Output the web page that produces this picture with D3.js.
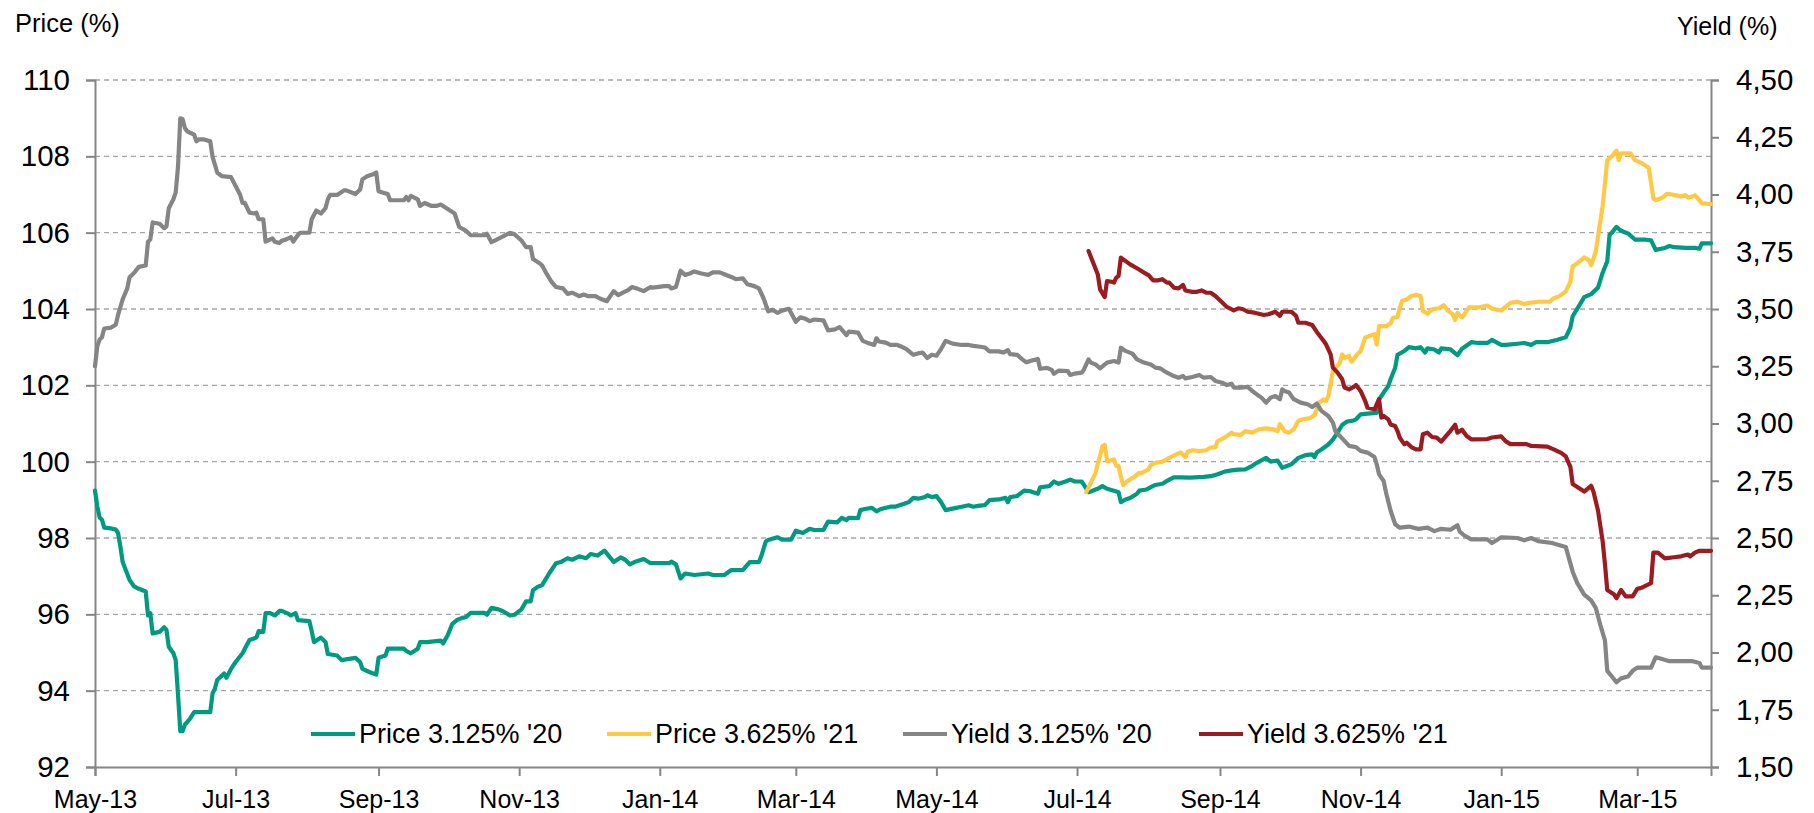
<!DOCTYPE html>
<html>
<head>
<meta charset="utf-8">
<script src="https://cdn.jsdelivr.net/npm/d3@7"></script>
<style>
  html, body { margin: 0; padding: 0; background: #fff; }
  svg { display: block; font-family: "Liberation Sans", Arial, sans-serif; }
</style>
</head>
<body>
<svg id="chart" width="1814" height="813"></svg>
<script>
// ---------------- DATA ----------------
const seriesNames = ["Price 3.125% '20", "Price 3.625% '21", "Yield 3.125% '20", "Yield 3.625% '21"];
const seriesColors = ["#009a80", "#ffc845", "#858585", "#9b1c20"];

const priceTicks = [92, 94, 96, 98, 100, 102, 104, 106, 108, 110];
const yieldTicks = [1.50, 1.75, 2.00, 2.25, 2.50, 2.75, 3.00, 3.25, 3.50, 3.75, 4.00, 4.25, 4.50];
const dateTicks = ["2013-05-01","2013-07-01","2013-09-01","2013-11-01","2014-01-01","2014-03-01",
                   "2014-05-01","2014-07-01","2014-09-01","2014-11-01","2015-01-01","2015-03-01"];
const dateDomain = ["2013-05-01", "2015-04-02"];

const price20 = [
["2013-05-01",99.24],["2013-05-02",98.83],["2013-05-03",98.54],["2013-05-04",98.48],["2013-05-05",98.27],
["2013-05-08",98.25],["2013-05-10",98.22],["2013-05-11",98.13],["2013-05-12",97.78],["2013-05-13",97.37],
["2013-05-16",96.90],["2013-05-18",96.73],["2013-05-20",96.67],["2013-05-23",96.60],["2013-05-24",95.97],
["2013-05-25",96.03],["2013-05-26",95.50],["2013-05-29",95.54],["2013-05-31",95.66],["2013-06-01",95.59],
["2013-06-02",95.15],["2013-06-04",94.98],["2013-06-05",94.80],["2013-06-06",93.90],["2013-06-07",92.94],
["2013-06-08",92.94],["2013-06-09",93.11],["2013-06-11",93.25],["2013-06-13",93.44],["2013-06-20",93.44],
["2013-06-21",93.93],["2013-06-22",94.05],["2013-06-23",94.28],["2013-06-26",94.45],["2013-06-27",94.34],
["2013-06-29",94.57],["2013-07-01",94.75],["2013-07-04",94.98],["2013-07-05",95.10],["2013-07-07",95.33],
["2013-07-08",95.35],["2013-07-10",95.39],["2013-07-11",95.56],["2013-07-13",95.54],["2013-07-14",96.03],
["2013-07-16",96.03],["2013-07-18",95.97],["2013-07-20",96.09],["2013-07-21",96.09],["2013-07-24",96.01],
["2013-07-25",95.97],["2013-07-27",96.03],["2013-07-28",95.85],["2013-08-02",95.82],["2013-08-03",95.56],
["2013-08-04",95.27],["2013-08-07",95.39],["2013-08-09",95.27],["2013-08-10",94.96],["2013-08-14",94.92],
["2013-08-16",94.80],["2013-08-22",94.86],["2013-08-24",94.75],["2013-08-25",94.57],["2013-08-28",94.49],
["2013-08-31",94.42],["2013-09-01",94.86],["2013-09-04",94.92],["2013-09-05",95.10],["2013-09-12",95.10],
["2013-09-13",95.04],["2013-09-15",94.98],["2013-09-18",95.10],["2013-09-19",95.27],["2013-09-22",95.27],
["2013-09-28",95.31],["2013-09-29",95.24],["2013-10-01",95.45],["2013-10-03",95.75],["2013-10-05",95.85],
["2013-10-07",95.90],["2013-10-09",95.93],["2013-10-11",96.04],["2013-10-17",96.04],["2013-10-18",95.99],
["2013-10-20",96.17],["2013-10-23",96.13],["2013-10-25",96.08],["2013-10-28",95.97],["2013-10-30",95.99],
["2013-11-02",96.13],["2013-11-04",96.34],["2013-11-06",96.34],["2013-11-07",96.63],["2013-11-09",96.72],
["2013-11-11",96.77],["2013-11-14",97.07],["2013-11-17",97.34],["2013-11-19",97.37],["2013-11-22",97.47],
["2013-11-24",97.43],["2013-11-27",97.52],["2013-11-30",97.47],["2013-12-02",97.58],["2013-12-05",97.54],
["2013-12-08",97.67],["2013-12-12",97.37],["2013-12-15",97.49],["2013-12-17",97.43],["2013-12-19",97.31],
["2013-12-21",97.37],["2013-12-25",97.45],["2013-12-28",97.34],["2014-01-01",97.34],["2014-01-05",97.34],
["2014-01-06",97.38],["2014-01-08",97.31],["2014-01-10",96.94],["2014-01-12",97.07],["2014-01-16",97.03],
["2014-01-22",97.07],["2014-01-24",97.03],["2014-01-29",97.03],["2014-02-01",97.16],["2014-02-06",97.16],
["2014-02-09",97.37],["2014-02-13",97.37],["2014-02-14",97.52],["2014-02-16",97.91],["2014-02-17",97.95],
["2014-02-21",98.02],["2014-02-23",97.96],["2014-02-27",97.96],["2014-03-01",98.19],["2014-03-04",98.13],
["2014-03-07",98.24],["2014-03-09",98.21],["2014-03-13",98.21],["2014-03-15",98.43],["2014-03-19",98.41],
["2014-03-21",98.53],["2014-03-23",98.47],["2014-03-24",98.53],["2014-03-28",98.52],["2014-03-29",98.73],
["2014-03-31",98.76],["2014-04-03",98.79],["2014-04-05",98.70],["2014-04-07",98.76],["2014-04-11",98.82],
["2014-04-13",98.82],["2014-04-17",98.90],["2014-04-19",98.94],["2014-04-21",99.05],["2014-04-23",99.03],
["2014-04-26",99.07],["2014-04-27",99.12],["2014-04-29",99.07],["2014-05-01",99.10],["2014-05-03",98.94],
["2014-05-05",98.73],["2014-05-08",98.77],["2014-05-12",98.82],["2014-05-15",98.86],["2014-05-17",98.82],
["2014-05-19",98.84],["2014-05-22",98.86],["2014-05-24",98.99],["2014-05-28",99.01],["2014-05-31",99.05],
["2014-06-01",98.94],["2014-06-02",99.07],["2014-06-05",99.10],["2014-06-08",99.24],["2014-06-11",99.22],
["2014-06-14",99.16],["2014-06-15",99.33],["2014-06-19",99.36],["2014-06-21",99.48],["2014-06-23",99.42],
["2014-06-26",99.48],["2014-06-28",99.53],["2014-06-30",99.48],["2014-07-03",99.48],["2014-07-04",99.39],
["2014-07-06",99.20],["2014-07-07",99.22],["2014-07-09",99.27],["2014-07-10",99.29],["2014-07-12",99.36],
["2014-07-14",99.29],["2014-07-17",99.24],["2014-07-19",99.20],["2014-07-20",98.94],["2014-07-22",99.01],
["2014-07-24",99.05],["2014-07-27",99.16],["2014-07-28",99.24],["2014-07-31",99.27],["2014-08-02",99.33],
["2014-08-04",99.39],["2014-08-07",99.42],["2014-08-10",99.53],["2014-08-12",99.59],["2014-08-15",99.59],
["2014-08-19",99.58],["2014-08-25",99.60],["2014-08-28",99.62],["2014-08-31",99.67],["2014-09-03",99.74],
["2014-09-06",99.77],["2014-09-09",99.79],["2014-09-12",99.80],["2014-09-15",99.89],["2014-09-17",99.97],
["2014-09-21",100.10],["2014-09-23",100.00],["2014-09-26",100.03],["2014-09-28",99.84],["2014-10-02",99.93],
["2014-10-05",100.10],["2014-10-08",100.17],["2014-10-11",100.19],["2014-10-12",100.12],["2014-10-13",100.24],
["2014-10-15",100.32],["2014-10-18",100.45],["2014-10-20",100.58],["2014-10-22",100.76],["2014-10-24",100.96],
["2014-10-26",101.05],["2014-10-29",101.08],["2014-10-30",101.11],["2014-11-01",101.24],["2014-11-04",101.26],
["2014-11-08",101.28],["2014-11-09",101.63],["2014-11-11",101.81],["2014-11-13",101.98],["2014-11-14",102.16],
["2014-11-16",102.46],["2014-11-17",102.80],["2014-11-20",102.90],["2014-11-22",103.00],["2014-11-25",102.97],
["2014-11-27",103.00],["2014-11-29",102.86],["2014-11-30",102.97],["2014-12-03",102.94],["2014-12-05",102.86],
["2014-12-06",102.97],["2014-12-10",102.94],["2014-12-13",102.79],["2014-12-15",102.96],["2014-12-19",103.13],
["2014-12-22",103.11],["2014-12-26",103.11],["2014-12-28",103.19],["2015-01-01",103.06],["2015-01-03",103.06],
["2015-01-08",103.09],["2015-01-11",103.11],["2015-01-14",103.06],["2015-01-16",103.13],["2015-01-21",103.13],
["2015-01-25",103.19],["2015-01-29",103.26],["2015-01-31",103.51],["2015-02-01",103.81],["2015-02-04",104.11],
["2015-02-06",104.31],["2015-02-09",104.39],["2015-02-12",104.56],["2015-02-14",104.95],["2015-02-16",105.25],
["2015-02-17",105.95],["2015-02-18",106.00],["2015-02-20",106.15],["2015-02-22",106.05],["2015-02-25",105.98],
["2015-02-28",105.82],["2015-03-04",105.82],["2015-03-07",105.80],["2015-03-09",105.55],["2015-03-13",105.60],
["2015-03-15",105.65],["2015-03-17",105.62],["2015-03-22",105.60],["2015-03-26",105.60],["2015-03-28",105.58],
["2015-03-29",105.72],["2015-04-02",105.72]
];

const price21 = [
["2014-07-05",99.20],["2014-07-07",99.45],["2014-07-09",99.70],["2014-07-10",99.95],["2014-07-11",100.15],
["2014-07-12",100.41],["2014-07-13",100.44],["2014-07-14",100.02],["2014-07-15",100.02],["2014-07-17",100.06],
["2014-07-18",99.89],["2014-07-19",99.89],["2014-07-20",99.60],["2014-07-21",99.39],["2014-07-23",99.50],
["2014-07-26",99.61],["2014-07-28",99.71],["2014-07-29",99.70],["2014-08-01",99.80],["2014-08-02",99.91],
["2014-08-04",99.97],["2014-08-07",100.00],["2014-08-10",100.10],["2014-08-13",100.19],["2014-08-15",100.24],
["2014-08-17",100.12],["2014-08-18",100.26],["2014-08-20",100.30],["2014-08-23",100.28],["2014-08-26",100.30],
["2014-08-28",100.37],["2014-08-30",100.38],["2014-08-31",100.54],["2014-09-03",100.63],["2014-09-06",100.76],
["2014-09-07",100.72],["2014-09-10",100.70],["2014-09-12",100.80],["2014-09-15",100.76],["2014-09-18",100.85],
["2014-09-21",100.87],["2014-09-24",100.85],["2014-09-26",100.80],["2014-09-27",100.98],["2014-09-29",100.80],
["2014-10-01",100.76],["2014-10-03",100.85],["2014-10-05",101.07],["2014-10-07",101.11],["2014-10-10",101.14],
["2014-10-12",101.22],["2014-10-13",101.37],["2014-10-14",101.55],["2014-10-16",101.63],["2014-10-17",101.59],
["2014-10-18",101.72],["2014-10-19",102.03],["2014-10-20",102.38],["2014-10-22",102.51],["2014-10-23",102.59],
["2014-10-24",102.81],["2014-10-25",102.72],["2014-10-27",102.77],["2014-10-28",102.62],["2014-10-30",102.77],
["2014-11-01",102.90],["2014-11-03",103.25],["2014-11-06",103.32],["2014-11-07",103.34],["2014-11-08",103.07],
["2014-11-09",103.55],["2014-11-12",103.55],["2014-11-14",103.62],["2014-11-15",103.77],["2014-11-17",103.79],
["2014-11-18",104.03],["2014-11-19",104.21],["2014-11-21",104.25],["2014-11-23",104.34],["2014-11-25",104.37],
["2014-11-27",104.34],["2014-11-28",103.95],["2014-11-30",103.88],["2014-12-02",103.99],["2014-12-05",104.02],
["2014-12-07",104.10],["2014-12-09",103.95],["2014-12-11",103.86],["2014-12-12",103.71],["2014-12-13",103.90],
["2014-12-15",103.78],["2014-12-18",104.04],["2014-12-22",104.04],["2014-12-26",104.09],["2014-12-28",104.01],
["2015-01-01",103.96],["2015-01-03",104.06],["2015-01-05",104.16],["2015-01-08",104.19],["2015-01-11",104.13],
["2015-01-13",104.16],["2015-01-17",104.19],["2015-01-22",104.19],["2015-01-24",104.29],["2015-01-26",104.33],
["2015-01-29",104.46],["2015-01-31",104.71],["2015-02-01",105.12],["2015-02-03",105.20],["2015-02-05",105.30],
["2015-02-06",105.35],["2015-02-08",105.28],["2015-02-09",105.15],["2015-02-11",105.50],["2015-02-12",105.90],
["2015-02-14",106.70],["2015-02-16",107.90],["2015-02-18",108.00],["2015-02-20",108.15],["2015-02-21",107.90],
["2015-02-22",108.08],["2015-02-26",108.08],["2015-02-28",107.90],["2015-03-03",107.82],["2015-03-06",107.70],
["2015-03-08",106.90],["2015-03-09",106.85],["2015-03-12",106.92],["2015-03-14",107.02],["2015-03-16",107.00],
["2015-03-20",106.95],["2015-03-22",106.98],["2015-03-23",106.92],["2015-03-25",106.95],["2015-03-26",106.98],
["2015-03-28",106.85],["2015-03-29",106.77],["2015-04-02",106.75]
];

const yield20 = [
["2013-05-01",3.250],["2013-05-02",3.337],["2013-05-03",3.367],["2013-05-04",3.376],["2013-05-05",3.415],
["2013-05-08",3.419],["2013-05-10",3.431],["2013-05-11",3.474],["2013-05-13",3.542],["2013-05-15",3.590],
["2013-05-16",3.639],["2013-05-18",3.658],["2013-05-20",3.684],["2013-05-23",3.690],["2013-05-24",3.794],
["2013-05-25",3.804],["2013-05-26",3.878],["2013-05-29",3.872],["2013-05-31",3.853],["2013-06-01",3.860],
["2013-06-02",3.940],["2013-06-04",3.979],["2013-06-05",4.008],["2013-06-06",4.120],["2013-06-07",4.333],
["2013-06-08",4.329],["2013-06-09",4.290],["2013-06-10",4.276],["2013-06-13",4.261],["2013-06-14",4.232],
["2013-06-15",4.241],["2013-06-17",4.241],["2013-06-20",4.232],["2013-06-21",4.164],["2013-06-22",4.131],
["2013-06-23",4.096],["2013-06-25",4.080],["2013-06-29",4.076],["2013-07-01",4.037],["2013-07-03",3.998],
["2013-07-04",3.963],["2013-07-05",3.963],["2013-07-07",3.921],["2013-07-09",3.917],["2013-07-10",3.921],
["2013-07-11",3.892],["2013-07-13",3.892],["2013-07-14",3.794],["2013-07-17",3.808],["2013-07-18",3.794],
["2013-07-20",3.788],["2013-07-21",3.798],["2013-07-23",3.804],["2013-07-25",3.814],["2013-07-26",3.794],
["2013-07-28",3.823],["2013-07-29",3.833],["2013-08-02",3.833],["2013-08-03",3.892],["2013-08-05",3.930],
["2013-08-07",3.917],["2013-08-09",3.940],["2013-08-10",3.979],["2013-08-11",3.998],["2013-08-14",3.998],
["2013-08-17",4.018],["2013-08-18",4.018],["2013-08-22",4.002],["2013-08-24",4.022],["2013-08-25",4.066],
["2013-08-27",4.080],["2013-08-30",4.090],["2013-08-31",4.096],["2013-09-01",4.014],["2013-09-03",4.008],
["2013-09-05",4.002],["2013-09-06",3.975],["2013-09-12",3.975],["2013-09-13",3.989],["2013-09-14",3.975],
["2013-09-15",3.994],["2013-09-18",3.979],["2013-09-19",3.950],["2013-09-21",3.963],["2013-09-24",3.950],
["2013-09-26",3.950],["2013-09-28",3.956],["2013-09-29",3.950],["2013-10-02",3.930],["2013-10-04",3.917],
["2013-10-06",3.858],["2013-10-09",3.841],["2013-10-11",3.822],["2013-10-17",3.822],["2013-10-18",3.829],
["2013-10-20",3.792],["2013-10-22",3.802],["2013-10-25",3.817],["2013-10-28",3.833],["2013-10-30",3.826],
["2013-11-02",3.799],["2013-11-04",3.770],["2013-11-06",3.770],["2013-11-07",3.718],["2013-11-10",3.699],
["2013-11-11",3.689],["2013-11-13",3.652],["2013-11-15",3.619],["2013-11-17",3.596],["2013-11-20",3.590],
["2013-11-22",3.566],["2013-11-24",3.571],["2013-11-27",3.556],["2013-11-29",3.563],["2013-12-01",3.556],
["2013-12-04",3.556],["2013-12-06",3.546],["2013-12-09",3.534],["2013-12-12",3.578],["2013-12-14",3.561],
["2013-12-16",3.571],["2013-12-18",3.581],["2013-12-20",3.596],["2013-12-22",3.590],["2013-12-25",3.578],
["2013-12-28",3.596],["2013-12-29",3.593],["2014-01-03",3.600],["2014-01-05",3.600],["2014-01-06",3.590],
["2014-01-08",3.596],["2014-01-10",3.667],["2014-01-12",3.649],["2014-01-14",3.655],["2014-01-16",3.664],
["2014-01-19",3.655],["2014-01-22",3.649],["2014-01-24",3.660],["2014-01-27",3.660],["2014-01-29",3.652],
["2014-02-01",3.640],["2014-02-03",3.630],["2014-02-06",3.634],["2014-02-08",3.608],["2014-02-11",3.600],
["2014-02-13",3.590],["2014-02-15",3.547],["2014-02-17",3.490],["2014-02-19",3.497],["2014-02-21",3.483],
["2014-02-23",3.493],["2014-02-26",3.501],["2014-03-01",3.444],["2014-03-03",3.464],["2014-03-05",3.458],
["2014-03-07",3.447],["2014-03-09",3.454],["2014-03-13",3.450],["2014-03-15",3.407],["2014-03-18",3.411],
["2014-03-20",3.421],["2014-03-23",3.386],["2014-03-24",3.401],["2014-03-28",3.397],["2014-03-30",3.361],
["2014-04-01",3.353],["2014-04-04",3.343],["2014-04-05",3.372],["2014-04-06",3.358],["2014-04-09",3.353],
["2014-04-11",3.343],["2014-04-14",3.343],["2014-04-16",3.335],["2014-04-18",3.325],["2014-04-21",3.300],
["2014-04-23",3.306],["2014-04-25",3.310],["2014-04-27",3.286],["2014-04-29",3.300],["2014-05-01",3.296],
["2014-05-03",3.325],["2014-05-05",3.361],["2014-05-08",3.349],["2014-05-12",3.343],["2014-05-15",3.343],
["2014-05-17",3.339],["2014-05-20",3.335],["2014-05-22",3.332],["2014-05-24",3.315],["2014-05-28",3.315],
["2014-05-30",3.310],["2014-06-01",3.320],["2014-06-02",3.303],["2014-06-05",3.300],["2014-06-07",3.282],
["2014-06-09",3.267],["2014-06-11",3.274],["2014-06-14",3.282],["2014-06-15",3.239],["2014-06-18",3.243],
["2014-06-20",3.234],["2014-06-21",3.217],["2014-06-23",3.231],["2014-06-27",3.229],["2014-06-28",3.212],
["2014-06-30",3.218],["2014-07-03",3.222],["2014-07-04",3.236],["2014-07-06",3.280],["2014-07-07",3.266],
["2014-07-09",3.258],["2014-07-11",3.241],["2014-07-14",3.266],["2014-07-17",3.273],["2014-07-19",3.266],
["2014-07-20",3.331],["2014-07-22",3.317],["2014-07-25",3.305],["2014-07-27",3.280],["2014-07-30",3.266],
["2014-08-02",3.258],["2014-08-04",3.244],["2014-08-06",3.241],["2014-08-09",3.222],["2014-08-12",3.207],
["2014-08-14",3.200],["2014-08-16",3.207],["2014-08-17",3.197],["2014-08-20",3.203],["2014-08-23",3.212],
["2014-08-25",3.200],["2014-08-28",3.203],["2014-08-30",3.186],["2014-09-02",3.178],["2014-09-04",3.168],
["2014-09-06",3.174],["2014-09-07",3.157],["2014-09-10",3.157],["2014-09-13",3.160],["2014-09-15",3.142],
["2014-09-17",3.127],["2014-09-19",3.113],["2014-09-21",3.091],["2014-09-23",3.113],["2014-09-25",3.120],
["2014-09-27",3.106],["2014-09-28",3.149],["2014-09-29",3.142],["2014-10-01",3.135],["2014-10-03",3.106],
["2014-10-06",3.091],["2014-10-09",3.084],["2014-10-11",3.072],["2014-10-13",3.087],["2014-10-15",3.055],
["2014-10-18",3.033],["2014-10-20",3.004],["2014-10-21",2.967],["2014-10-23",2.946],["2014-10-25",2.924],
["2014-10-27",2.902],["2014-10-30",2.897],["2014-11-01",2.880],["2014-11-04",2.873],["2014-11-07",2.854],
["2014-11-08",2.822],["2014-11-09",2.778],["2014-11-11",2.749],["2014-11-12",2.700],["2014-11-14",2.620],
["2014-11-16",2.560],["2014-11-18",2.545],["2014-11-22",2.550],["2014-11-26",2.540],["2014-11-30",2.545],
["2014-12-03",2.530],["2014-12-06",2.540],["2014-12-10",2.536],["2014-12-13",2.556],["2014-12-14",2.528],
["2014-12-16",2.511],["2014-12-19",2.494],["2014-12-26",2.494],["2014-12-28",2.478],["2015-01-01",2.503],
["2015-01-08",2.500],["2015-01-11",2.490],["2015-01-14",2.500],["2015-01-17",2.486],["2015-01-23",2.478],
["2015-01-29",2.461],["2015-02-01",2.353],["2015-02-03",2.303],["2015-02-06",2.253],["2015-02-09",2.228],
["2015-02-11",2.195],["2015-02-13",2.120],["2015-02-15",2.053],["2015-02-16",1.920],["2015-02-18",1.895],
["2015-02-20",1.870],["2015-02-22",1.887],["2015-02-25",1.895],["2015-02-27",1.920],["2015-03-01",1.934],
["2015-03-07",1.934],["2015-03-09",1.979],["2015-03-11",1.974],["2015-03-15",1.962],["2015-03-25",1.962],
["2015-03-28",1.954],["2015-03-29",1.934],["2015-04-02",1.934]
];

const yield21 = [
["2014-07-06",3.753],["2014-07-08",3.702],["2014-07-10",3.651],["2014-07-11",3.586],["2014-07-13",3.552],
["2014-07-14",3.622],["2014-07-16",3.619],["2014-07-17",3.615],["2014-07-18",3.637],["2014-07-19",3.644],
["2014-07-20",3.724],["2014-07-22",3.710],["2014-07-24",3.695],["2014-07-27",3.678],["2014-07-30",3.659],
["2014-08-01",3.648],["2014-08-03",3.625],["2014-08-05",3.625],["2014-08-07",3.630],["2014-08-09",3.615],
["2014-08-10",3.615],["2014-08-12",3.593],["2014-08-14",3.590],["2014-08-16",3.605],["2014-08-17",3.581],
["2014-08-20",3.575],["2014-08-22",3.575],["2014-08-24",3.581],["2014-08-26",3.571],["2014-08-28",3.571],
["2014-08-30",3.557],["2014-09-02",3.528],["2014-09-04",3.509],["2014-09-07",3.494],["2014-09-09",3.503],
["2014-09-11",3.499],["2014-09-13",3.488],["2014-09-16",3.484],["2014-09-20",3.474],["2014-09-22",3.477],
["2014-09-25",3.488],["2014-09-27",3.470],["2014-09-28",3.488],["2014-10-02",3.488],["2014-10-04",3.470],
["2014-10-05",3.440],["2014-10-08",3.440],["2014-10-11",3.430],["2014-10-13",3.400],["2014-10-16",3.360],
["2014-10-17",3.346],["2014-10-19",3.302],["2014-10-20",3.244],["2014-10-22",3.222],["2014-10-24",3.193],
["2014-10-25",3.157],["2014-10-27",3.149],["2014-10-29",3.160],["2014-10-30",3.168],["2014-11-01",3.142],
["2014-11-03",3.098],["2014-11-04",3.069],["2014-11-07",3.062],["2014-11-09",3.106],["2014-11-10",3.026],
["2014-11-11",3.033],["2014-11-13",3.018],["2014-11-14",2.996],["2014-11-16",2.989],["2014-11-17",2.967],
["2014-11-18",2.938],["2014-11-20",2.909],["2014-11-21",2.916],["2014-11-23",2.897],["2014-11-25",2.887],
["2014-11-27",2.887],["2014-11-28",2.953],["2014-11-30",2.960],["2014-12-02",2.941],["2014-12-04",2.938],
["2014-12-06",2.921],["2014-12-08",2.945],["2014-12-10",2.968],["2014-12-12",2.995],["2014-12-13",2.960],
["2014-12-15",2.973],["2014-12-17",2.945],["2014-12-19",2.931],["2014-12-26",2.932],["2014-12-28",2.939],
["2015-01-01",2.944],["2015-01-03",2.922],["2015-01-05",2.910],["2015-01-12",2.910],["2015-01-14",2.902],
["2015-01-21",2.899],["2015-01-24",2.886],["2015-01-27",2.872],["2015-01-29",2.856],["2015-01-31",2.811],
["2015-02-01",2.736],["2015-02-03",2.723],["2015-02-06",2.703],["2015-02-09",2.728],["2015-02-10",2.703],
["2015-02-12",2.619],["2015-02-14",2.486],["2015-02-15",2.386],["2015-02-16",2.273],["2015-02-19",2.253],
["2015-02-20",2.237],["2015-02-22",2.273],["2015-02-24",2.245],["2015-02-27",2.245],["2015-03-01",2.278],
["2015-03-03",2.283],["2015-03-07",2.303],["2015-03-08",2.436],["2015-03-10",2.436],["2015-03-13",2.411],
["2015-03-17",2.416],["2015-03-20",2.420],["2015-03-23",2.428],["2015-03-24",2.420],["2015-03-26",2.436],
["2015-03-28",2.444],["2015-04-02",2.444]
];

// ---------------- CHART ----------------
const svg = d3.select("#chart");
const m = { left: 95, right: 1711, top: 80, bottom: 767 };
const parse = d3.utcParse("%Y-%m-%d");
const axisColor = "#868686";

const x = d3.scaleUtc().domain(dateDomain.map(parse)).range([m.left, m.right]);
const yP = d3.scaleLinear().domain([92, 110]).range([m.bottom, m.top]);
const yY = d3.scaleLinear().domain([1.5, 4.5]).range([m.bottom, m.top]);

// gridlines
svg.append("g").selectAll("line")
  .data(priceTicks.filter(v => v !== 92))
  .join("line")
  .attr("x1", m.left).attr("x2", m.right)
  .attr("y1", d => yP(d)).attr("y2", d => yP(d))
  .attr("stroke", "#a6a6a6").attr("stroke-width", 1.3)
  .attr("stroke-dasharray", "5,4");

// left axis
const gL = svg.append("g").attr("transform", `translate(${m.left},0)`)
  .call(d3.axisLeft(yP).tickValues(priceTicks).tickSize(9).tickPadding(16).tickFormat(d3.format("d")));
// right axis
const gR = svg.append("g").attr("transform", `translate(${m.right},0)`)
  .call(d3.axisRight(yY).tickValues(yieldTicks).tickSize(8).tickPadding(17)
    .tickFormat(v => d3.format(".2f")(v).replace(".", ",")));
// bottom axis
const gB = svg.append("g").attr("transform", `translate(0,${m.bottom})`)
  .call(d3.axisBottom(x).tickValues(dateTicks.map(parse)).tickSize(9).tickPadding(14)
    .tickFormat(d3.utcFormat("%b-%y")));

[gL, gR, gB].forEach(g => {
  g.select(".domain").attr("stroke", axisColor).attr("stroke-width", 2);
  g.selectAll(".tick line").attr("stroke", axisColor).attr("stroke-width", 2);
  g.selectAll(".tick text").attr("fill", "#000").attr("font-family", "'Liberation Sans', Arial, sans-serif");
});
gL.selectAll(".tick text").attr("font-size", 29.5);
gR.selectAll(".tick text").attr("font-size", 29.5);
gB.selectAll(".tick text").attr("font-size", 25);

// axis titles
svg.append("text").attr("x", 15).attr("y", 32).attr("font-size", 25.5).text("Price (%)");
svg.append("text").attr("x", 1677).attr("y", 35).attr("font-size", 25).text("Yield (%)");

// series
const allSeries = [
  { data: price20, y: yP },
  { data: price21, y: yP },
  { data: yield20, y: yY },
  { data: yield21, y: yY }
];
allSeries.forEach((s, i) => {
  const line = d3.line().x(d => x(parse(d[0]))).y(d => s.y(d[1]));
  svg.append("path").datum(s.data)
    .attr("d", line)
    .attr("fill", "none")
    .attr("stroke", seriesColors[i])
    .attr("stroke-width", 4.2)
    .attr("stroke-linejoin", "round")
    .attr("stroke-linecap", "round");
});

// legend
const lg = svg.append("g");
seriesNames.forEach((name, i) => {
  const x0 = 311 + i * 296;
  lg.append("line").attr("x1", x0).attr("x2", x0 + 44).attr("y1", 734).attr("y2", 734)
    .attr("stroke", seriesColors[i]).attr("stroke-width", 4.2);
  lg.append("text").attr("x", x0 + 48).attr("y", 743).attr("font-size", 27).text(name);
});
</script>
</body>
</html>
